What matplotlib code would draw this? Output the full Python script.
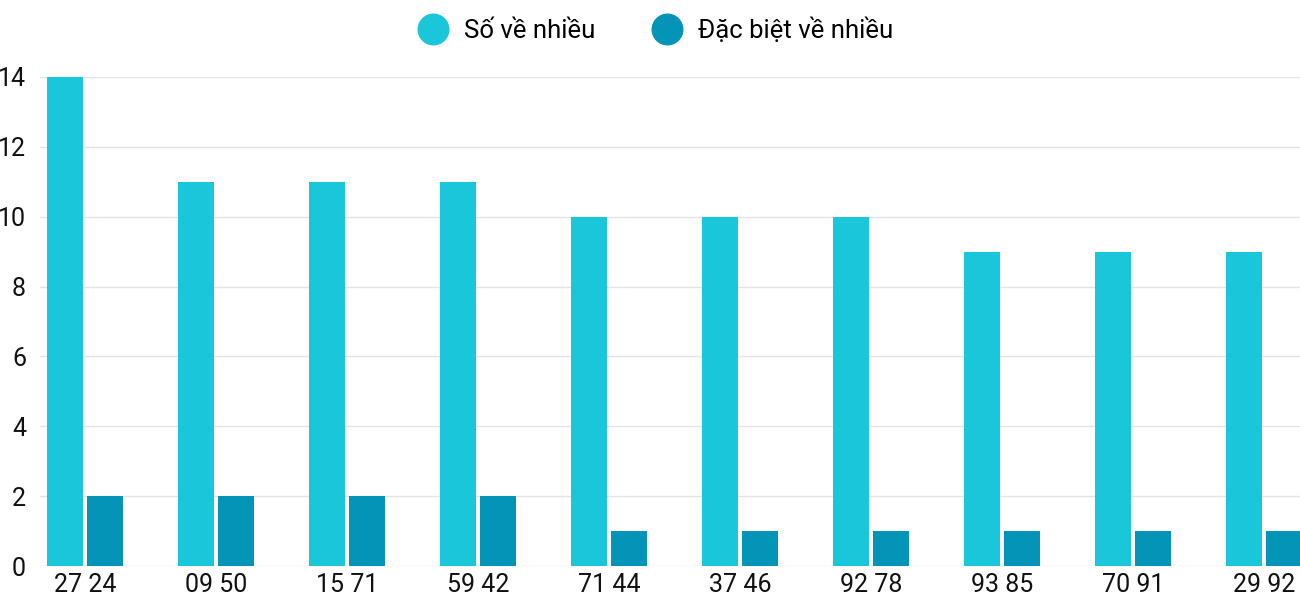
import numpy as np
import matplotlib.pyplot as plt
from matplotlib.lines import Line2D

plt.rcParams['font.family'] = ['Roboto', 'DejaVu Sans']

labels = ['27 24', '09 50', '15 71', '59 42', '71 44', '37 46', '92 78', '93 85', '70 91', '29 92']
so_ve_nhieu = [14, 11, 11, 11, 10, 10, 10, 9, 9, 9]
dac_biet = [2, 2, 2, 2, 1, 1, 1, 1, 1, 1]

c1 = '#1ac6da'
c2 = '#0494b8'

fig = plt.figure(figsize=(13, 6), dpi=100)
ax = fig.add_axes([40 / 1300, 34 / 600, 1260 / 1300, 489 / 600])

x = np.arange(len(labels))
w = 0.275
ax.bar(x - w / 2 - 0.012, so_ve_nhieu, w, color=c1, zorder=3)
ax.bar(x + w / 2 + 0.012, dac_biet, w, color=c2, zorder=3)

ax.set_xlim(-0.344, 9.275)
ax.set_ylim(0, 14)
ax.set_yticks(range(0, 15, 2))
ax.set_xticks(x)
ax.set_xticklabels(labels)
ax.tick_params(length=0, labelsize=18, colors='#111111')
ax.tick_params(axis='y', pad=10)
ax.tick_params(axis='x', pad=5)
ax.grid(axis='y', color='#e4e4e4', lw=1, zorder=0)
for s in ax.spines.values():
    s.set_visible(False)

handles = [Line2D([], [], marker='o', ls='', color=c1, markersize=22),
           Line2D([], [], marker='o', ls='', color=c2, markersize=22)]
fig.legend(handles, ['Số về nhiều', 'Đặc biệt về nhiều'], loc='upper center',
           bbox_to_anchor=(0.5, 1.01), ncol=2, frameon=False, fontsize=18.5,
           handletextpad=0.2, columnspacing=1.8)

fig.savefig('out.png')
